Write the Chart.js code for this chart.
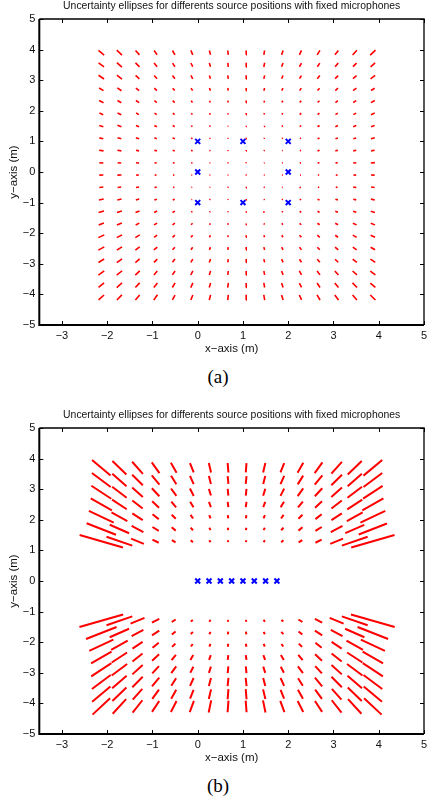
<!DOCTYPE html>
<html>
<head>
<meta charset="utf-8">
<script src="https://cdn.jsdelivr.net/npm/chart.js@4.4.1/dist/chart.umd.min.js"></script>
<style>
  body { margin: 0; background: #fff; width: 430px; height: 800px; position: relative; overflow: hidden; }
  canvas { position: absolute; left: 0; }
  #chartA { top: 0; }
  #chartB { top: 409px; }
  .caption { position: absolute; left: 3px; width: 430px; text-align: center; font-family: 'Liberation Serif', 'Times New Roman', serif; font-size: 19px; line-height: 20px; color: #000; }
</style>
</head>
<body>
<canvas id="chartA" width="430" height="360"></canvas>
<div class="caption" style="top: 367px">(a)</div>
<canvas id="chartB" width="430" height="360"></canvas>
<div class="caption" style="top: 776px">(b)</div>
<script>
const chartTitle = 'Uncertainty ellipses for differents source positions with fixed microphones';
const xTicks = [-3, -2, -1, 0, 1, 2, 3, 4, 5];
const yTicks = [-5, -4, -3, -2, -1, 0, 1, 2, 3, 4, 5];

// source grid columns (m), shared by both layouts
const srcX = [-2.13, -1.73, -1.33, -0.93, -0.53, -0.13, 0.27, 0.67, 1.07, 1.47, 1.87, 2.27, 2.67, 3.07, 3.47, 3.87];

// (a) square array: 8 microphones
const micAX = [0, 1, 2, 0, 2, 0, 1, 2];
const micAY = [1, 1, 1, 0, 0, -1, -1, -1];
const rowsA = [3.9, 3.5, 3.1, 2.7, 2.3, 1.9, 1.5, 1.1, 0.7, 0.3, -0.1, -0.5, -0.9, -1.3, -1.7, -2.1, -2.5, -2.9, -3.3, -3.7, -4.1];
// major axis orientation (deg) per source
const anglesA = [
  [129,125,121,116,111,106,101,95,89,83,77,72,67,62,58,54],
  [132,128,124,119,114,108,102,95,89,82,76,70,65,60,55,51],
  [135,131,127,122,116,110,103,96,89,81,74,68,62,56,52,47],
  [139,135,131,126,120,113,105,97,89,80,72,65,58,53,48,43],
  [144,140,135,130,124,116,108,98,88,78,69,61,54,48,43,39],
  [149,145,141,135,129,121,111,100,88,76,65,56,49,43,38,34],
  [154,151,147,142,136,127,116,102,87,73,60,50,42,36,31,28],
  [161,158,155,150,144,136,124,107,86,67,52,41,33,28,24,21],
  [167,166,163,160,155,148,136,115,84,56,39,29,23,19,16,14],
  [175,174,173,171,169,165,158,138,77,33,19,13,10,8,7,6],
  [2,2,3,3,4,5,8,17,125,168,173,175,177,177,178,178],
  [9,10,12,15,18,24,34,57,82,133,150,159,163,166,169,170],
  [16,18,21,25,31,39,51,70,86,118,134,145,152,157,160,163],
  [23,26,29,34,40,49,61,76,87,110,124,134,142,148,152,156],
  [29,32,36,41,48,56,67,79,88,106,117,127,135,141,146,149],
  [34,38,42,47,54,62,71,81,88,103,112,121,128,135,140,144],
  [39,43,47,52,59,66,74,83,88,101,109,117,124,130,135,139],
  [43,47,51,56,62,69,76,84,89,99,107,114,120,126,130,135],
  [47,50,55,60,65,71,78,84,89,98,105,111,117,122,127,131],
  [50,54,58,62,68,73,79,85,89,97,103,109,114,119,124,128],
  [53,56,60,65,70,75,80,85,89,97,102,107,112,117,121,125]
];
// major axis length (m) per source
const lengthsA = [
  [0.20,0.20,0.17,0.15,0.15,0.15,0.14,0.14,0.14,0.14,0.15,0.15,0.16,0.16,0.18,0.20],
  [0.18,0.18,0.16,0.14,0.13,0.13,0.13,0.13,0.14,0.14,0.13,0.13,0.13,0.14,0.14,0.16],
  [0.17,0.17,0.14,0.12,0.12,0.12,0.11,0.11,0.12,0.12,0.11,0.11,0.12,0.12,0.13,0.15],
  [0.13,0.13,0.11,0.10,0.09,0.09,0.09,0.09,0.09,0.09,0.09,0.09,0.09,0.10,0.11,0.11],
  [0.12,0.11,0.10,0.08,0.08,0.07,0.06,0.06,0.07,0.06,0.06,0.07,0.07,0.08,0.09,0.11],
  [0.10,0.10,0.08,0.07,0.06,0.05,0.05,0.04,0.05,0.05,0.05,0.06,0.06,0.07,0.08,0.10],
  [0.10,0.10,0.08,0.07,0.06,0.04,0.04,0.03,0.03,0.03,0.04,0.05,0.06,0.07,0.08,0.09],
  [0.09,0.09,0.08,0.06,0.06,0.04,0.03,0.03,0.03,0.03,0.03,0.03,0.05,0.06,0.07,0.09],
  [0.10,0.09,0.07,0.06,0.05,0.04,0.03,0.03,0.03,0.03,0.02,0.03,0.05,0.06,0.07,0.08],
  [0.09,0.08,0.07,0.05,0.04,0.03,0.02,0.03,0.03,0.02,0.02,0.03,0.04,0.05,0.07,0.09],
  [0.09,0.09,0.06,0.04,0.03,0.02,0.02,0.02,0.03,0.02,0.02,0.02,0.03,0.04,0.06,0.08],
  [0.09,0.08,0.07,0.05,0.03,0.02,0.02,0.03,0.03,0.03,0.02,0.02,0.03,0.04,0.07,0.08],
  [0.11,0.10,0.08,0.06,0.05,0.02,0.03,0.03,0.03,0.03,0.03,0.04,0.05,0.06,0.07,0.09],
  [0.13,0.12,0.10,0.08,0.07,0.04,0.03,0.03,0.03,0.03,0.04,0.05,0.06,0.07,0.08,0.10],
  [0.13,0.13,0.10,0.09,0.08,0.06,0.05,0.05,0.04,0.04,0.05,0.06,0.07,0.08,0.10,0.11],
  [0.16,0.15,0.13,0.10,0.09,0.08,0.07,0.06,0.07,0.06,0.07,0.08,0.09,0.09,0.11,0.12],
  [0.17,0.16,0.14,0.12,0.10,0.09,0.09,0.09,0.09,0.09,0.09,0.10,0.10,0.11,0.12,0.13],
  [0.17,0.17,0.15,0.13,0.12,0.12,0.12,0.11,0.11,0.11,0.11,0.11,0.12,0.12,0.14,0.15],
  [0.19,0.19,0.17,0.15,0.14,0.14,0.14,0.13,0.13,0.13,0.13,0.14,0.14,0.15,0.16,0.17],
  [0.19,0.20,0.18,0.17,0.16,0.16,0.15,0.16,0.15,0.15,0.15,0.15,0.16,0.17,0.18,0.18],
  [0.20,0.20,0.19,0.19,0.17,0.17,0.17,0.17,0.17,0.17,0.17,0.17,0.18,0.18,0.19,0.20]
];

// (b) linear array: 8 microphones on the x axis
const micBX = [0, 0.25, 0.5, 0.75, 1, 1.25, 1.5, 1.75];
const micBY = [0, 0, 0, 0, 0, 0, 0, 0];
const rowsB = [3.7, 3.3, 2.9, 2.5, 2.1, 1.7, 1.3, -1.3, -1.7, -2.1, -2.5, -2.9, -3.3, -3.7, -4.1];
const anglesB = [
  [129,125,121,116,111,105,99,93,87,81,75,69,64,59,55,51],
  [132,128,124,119,113,107,100,94,86,80,73,67,61,56,52,48],
  [136,132,127,122,116,109,102,94,86,78,71,64,58,53,48,44],
  [140,136,131,126,119,112,104,95,85,76,68,61,54,49,44,40],
  [145,141,136,131,124,116,106,96,84,74,64,56,49,44,39,35],
  [150,147,142,137,130,121,110,97,83,70,59,50,43,38,33,30],
  [157,153,149,144,137,128,115,99,81,65,52,43,36,31,27,23],
  [23,27,31,36,43,52,65,81,99,115,128,137,144,149,153,157],
  [30,33,38,43,50,59,70,83,97,110,121,130,137,142,147,150],
  [35,39,44,49,56,64,74,84,96,106,116,124,131,136,141,145],
  [40,44,49,54,61,68,76,85,95,104,112,119,126,131,136,140],
  [44,48,53,58,64,71,78,86,94,102,109,116,122,127,132,136],
  [48,52,56,61,67,73,80,86,94,100,107,113,119,124,128,132],
  [51,55,59,64,69,75,81,87,93,99,105,111,116,121,125,129],
  [54,58,62,66,71,76,82,87,93,98,104,109,114,118,122,126]
];
const lengthsB = [
  [0.65,0.54,0.46,0.39,0.35,0.32,0.31,0.31,0.30,0.31,0.32,0.35,0.39,0.45,0.54,0.66],
  [0.62,0.51,0.42,0.35,0.30,0.28,0.26,0.25,0.25,0.26,0.28,0.31,0.35,0.42,0.51,0.62],
  [0.61,0.48,0.39,0.31,0.27,0.26,0.22,0.22,0.22,0.23,0.25,0.28,0.31,0.39,0.48,0.60],
  [0.61,0.45,0.35,0.26,0.22,0.20,0.18,0.17,0.17,0.18,0.20,0.22,0.26,0.35,0.46,0.61],
  [0.67,0.45,0.32,0.21,0.16,0.13,0.11,0.11,0.11,0.11,0.13,0.16,0.21,0.32,0.45,0.67],
  [0.75,0.51,0.33,0.19,0.14,0.10,0.08,0.08,0.08,0.08,0.10,0.14,0.19,0.33,0.50,0.72],
  [1.04,0.64,0.33,0.17,0.11,0.08,0.07,0.06,0.06,0.07,0.08,0.11,0.17,0.33,0.64,1.04],
  [1.05,0.64,0.36,0.20,0.12,0.07,0.07,0.06,0.06,0.07,0.07,0.12,0.20,0.36,0.64,1.05],
  [0.78,0.51,0.33,0.22,0.13,0.09,0.08,0.09,0.09,0.08,0.09,0.13,0.22,0.33,0.51,0.78],
  [0.65,0.47,0.31,0.21,0.13,0.09,0.09,0.10,0.10,0.09,0.09,0.13,0.21,0.31,0.47,0.65],
  [0.59,0.47,0.34,0.26,0.20,0.17,0.16,0.16,0.16,0.16,0.17,0.20,0.26,0.34,0.47,0.59],
  [0.62,0.51,0.38,0.28,0.25,0.21,0.21,0.22,0.22,0.21,0.21,0.25,0.28,0.38,0.51,0.62],
  [0.62,0.52,0.41,0.33,0.27,0.27,0.27,0.27,0.27,0.27,0.27,0.27,0.33,0.41,0.52,0.62],
  [0.64,0.54,0.41,0.34,0.31,0.30,0.32,0.33,0.33,0.32,0.30,0.31,0.34,0.41,0.54,0.64],
  [0.66,0.56,0.46,0.39,0.38,0.38,0.40,0.38,0.38,0.40,0.38,0.38,0.39,0.46,0.56,0.66]
];

Chart.defaults.font.family = "'Liberation Sans', Arial, sans-serif";
Chart.defaults.color = '#111';

// every ellipse is thin enough to show as its major axis: two end points, then a gap
function ellipseAxes(rows, angles, lengths) {
  const pts = [];
  rows.forEach((y, r) => {
    srcX.forEach((x, c) => {
      const t = angles[r][c] * Math.PI / 180;
      const h = lengths[r][c] / 2;
      pts.push({ x: x - h * Math.cos(t), y: y - h * Math.sin(t) });
      pts.push({ x: x + h * Math.cos(t), y: y + h * Math.sin(t) });
      pts.push({ x: x, y: null });
    });
  });
  return pts;
}

const fmt = v => (v < 0 ? '\u2212' + Math.abs(v) : String(v));

// closed box with inward tick marks on all four sides
const axesBox = {
  id: 'axesBox',
  afterDraw(chart) {
    const { ctx, chartArea: a, scales: { x, y } } = chart;
    ctx.save();
    ctx.strokeStyle = '#000';
    ctx.lineWidth = 1;
    ctx.beginPath();
    xTicks.forEach(v => {
      const px = Math.round(x.getPixelForValue(v)) + 0.5;
      ctx.moveTo(px, a.bottom); ctx.lineTo(px, a.bottom - 4);
      ctx.moveTo(px, a.top); ctx.lineTo(px, a.top + 4);
    });
    yTicks.forEach(v => {
      const py = Math.round(y.getPixelForValue(v)) + 0.5;
      ctx.moveTo(a.left, py); ctx.lineTo(a.left + 4, py);
      ctx.moveTo(a.right, py); ctx.lineTo(a.right - 4, py);
    });
    ctx.stroke();
    ctx.lineWidth = 1.3;
    ctx.beginPath();
    ctx.moveTo(a.left, a.top); ctx.lineTo(a.right, a.top); ctx.lineTo(a.right, a.bottom);
    ctx.stroke();
    ctx.lineWidth = 2;
    ctx.beginPath();
    ctx.moveTo(a.left, a.top); ctx.lineTo(a.left, a.bottom); ctx.lineTo(a.right, a.bottom);
    ctx.stroke();
    ctx.restore();
  }
};

function makeChart(id, rows, angles, lengths, micX, micY, lineW) {
  return new Chart(document.getElementById(id), {
    type: 'scatter',
    data: {
      datasets: [
        {
          data: ellipseAxes(rows, angles, lengths),
          showLine: true,
          spanGaps: false,
          borderColor: '#ff0000',
          borderWidth: lineW,
          pointRadius: 0,
          tension: 0
        },
        {
          data: micX.map((x, i) => ({ x: x, y: micY[i] })),
          pointStyle: 'crossRot',
          pointRadius: 3.5,
          borderColor: '#0000ff',
          backgroundColor: '#0000ff',
          borderWidth: 2,
          showLine: false
        }
      ]
    },
    options: {
      responsive: false,
      animation: false,
      events: [],
      layout: { padding: { left: 0, right: 1.7, top: 0, bottom: 0 } },
      plugins: {
        legend: { display: false },
        tooltip: { enabled: false },
        title: {
          display: true,
          text: chartTitle,
          fullSize: false,
          color: '#111',
          font: { size: 10.4, weight: 'normal' },
          padding: { top: 0, bottom: 6.5 }
        }
      },
      scales: {
        x: {
          type: 'linear',
          min: -3.5,
          max: 5,
          grid: { display: false, drawTicks: false },
          border: { display: false },
          afterBuildTicks: s => { s.ticks = xTicks.map(v => ({ value: v })); },
          afterFit: s => { s.height = 35; s.paddingLeft = 0; s.paddingRight = 0; },
          ticks: { padding: 4, autoSkip: false, maxRotation: 0, font: { size: 11 }, callback: fmt },
          title: { display: true, text: 'x\u2212axis (m)', font: { size: 11.5 }, padding: { top: 0, bottom: 3.8 } }
        },
        y: {
          type: 'linear',
          min: -5,
          max: 5,
          grid: { display: false, drawTicks: false },
          border: { display: false },
          afterBuildTicks: s => { s.ticks = yTicks.map(v => ({ value: v })); },
          afterFit: s => { s.width = 39.3; s.paddingTop = 0; s.paddingBottom = 0; },
          ticks: { padding: 4, autoSkip: false, font: { size: 11 }, callback: fmt },
          title: { display: true, text: 'y\u2212axis (m)', font: { size: 11.5 }, padding: { top: 6.6, bottom: 0 } }
        }
      }
    },
    plugins: [axesBox]
  });
}

makeChart('chartA', rowsA, anglesA, lengthsA, micAX, micAY, 1.6);
makeChart('chartB', rowsB, anglesB, lengthsB, micBX, micBY, 2);
</script>
</body>
</html>
